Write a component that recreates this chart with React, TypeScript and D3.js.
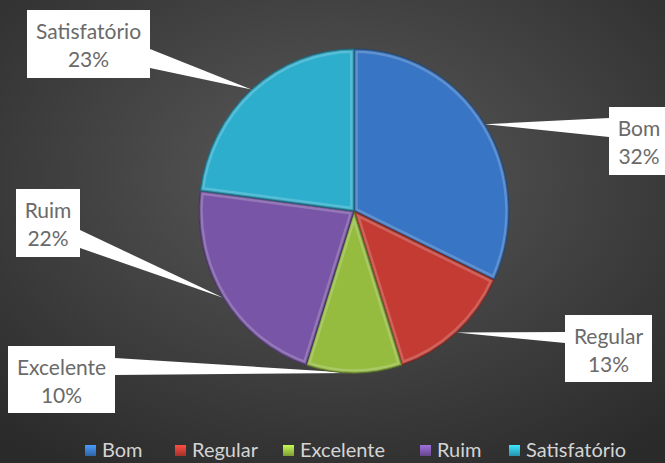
import React from 'react';
import * as d3 from 'd3';

const categories = ['Bom', 'Regular', 'Excelente', 'Ruim', 'Satisfatório'];
const values = [32, 13, 10, 22, 23];
const percentLabels = ['32%', '13%', '10%', '22%', '23%'];
const colors = ['#3875c4', '#c33b33', '#95bc3f', '#7855a6', '#2eaecd'];

const W = 665;
const H = 463;
const cx = 354;
const cy = 211;
const rx = 155;
const ry = 162;

// label box layout: [x, y, w, h, wedge base x, wedge base y0, wedge base y1]
const boxes: Record<string, number[]> = {
  'Bom': [609, 107, 60, 68, 609, 118, 137],
  'Regular': [565, 315, 87, 67, 565, 332, 343],
  'Excelente': [8, 346, 107, 67, 115, 358, 375],
  'Ruim': [16, 189, 64, 68, 80, 230, 248],
  'Satisfatório': [27, 10, 123, 68, 150, 49, 68],
};

export default function App() {
  const pie = d3.pie<number>().sort(null).value((d) => d);
  const arcs = pie(values);
  const arcGen = d3.arc<d3.PieArcDatum<number>>().innerRadius(0).outerRadius(ry);
  const sx = rx / ry;
  const font = 'Lato, "Open Sans", sans-serif';

  const legendX = [85, 175, 283, 420, 509];

  return (
    <svg width={W} height={H} style={{ position: 'absolute', left: 0, top: 0 }}>
      <defs>
        <radialGradient id="bg" cx="50%" cy="38%" r="75%">
          <stop offset="0%" stopColor="#5a5a5a" />
          <stop offset="100%" stopColor="#2a2a2a" />
        </radialGradient>
        {arcs.map((a, i) => (
          <clipPath id={`clip${i}`} key={i}>
            <path d={arcGen(a) || ''} />
          </clipPath>
        ))}
        {colors.map((c, i) => (
          <linearGradient id={`lg${i}`} key={i} x1="0" y1="0" x2="0" y2="1">
            <stop offset="0%" stopColor={d3.color(c)!.brighter(0.8).formatHex()} />
            <stop offset="100%" stopColor={d3.color(c)!.darker(0.5).formatHex()} />
          </linearGradient>
        ))}
      </defs>
      <rect x={0} y={0} width={W} height={H} fill="url(#bg)" />

      {/* callout wedges */}
      {arcs.map((a, i) => {
        const name = categories[i];
        const b = boxes[name];
        const mid = (a.startAngle + a.endAngle) / 2;
        const tx = cx + rx * Math.sin(mid);
        const ty = cy - ry * Math.cos(mid);
        return (
          <polygon
            key={`w${i}`}
            points={`${b[4]},${b[5]} ${b[4]},${b[6]} ${tx},${ty}`}
            fill="#ffffff"
          />
        );
      })}

      <g transform={`translate(${cx},${cy}) scale(${sx},1)`}>
        {arcs.map((a, i) => (
          <g key={i}>
            <path d={arcGen(a) || ''} fill={colors[i]} />
            <g clipPath={`url(#clip${i})`}>
              <path
                d={arcGen(a) || ''}
                fill="none"
                stroke="#ffffff"
                strokeOpacity={0.2}
                strokeWidth={8}
                strokeLinejoin="round"
              />
              <path
                d={arcGen(a) || ''}
                fill="none"
                stroke={d3.color(colors[i])!.darker(1).formatHex()}
                strokeOpacity={0.6}
                strokeWidth={3}
                strokeLinejoin="round"
              />
            </g>
            <path
              d={arcGen(a) || ''}
              fill="none"
              stroke={d3.color(colors[i])!.darker(1.5).formatHex()}
              strokeWidth={1}
              vectorEffect="non-scaling-stroke"
            />
          </g>
        ))}
      </g>

      {/* label boxes */}
      {categories.map((name, i) => {
        const b = boxes[name];
        const mx = b[0] + b[2] / 2;
        return (
          <g key={`b${i}`}>
            <rect x={b[0]} y={b[1]} width={b[2]} height={b[3]} fill="#ffffff" />
            <text x={mx} y={b[1] + 29} textAnchor="middle" fontFamily={font} fontSize={21} fill="#6a6a6a">
              {name}
            </text>
            <text x={mx} y={b[1] + 57} textAnchor="middle" fontFamily={font} fontSize={21} fill="#6a6a6a">
              {percentLabels[i]}
            </text>
          </g>
        );
      })}

      {/* legend */}
      {categories.map((name, i) => (
        <g key={`l${i}`}>
          <rect x={legendX[i]} y={445} width={11} height={11} fill={`url(#lg${i})`} />
          <text x={legendX[i] + 17} y={457} fontFamily={font} fontSize={20} fill="#d4d4d4">
            {name}
          </text>
        </g>
      ))}
    </svg>
  );
}
